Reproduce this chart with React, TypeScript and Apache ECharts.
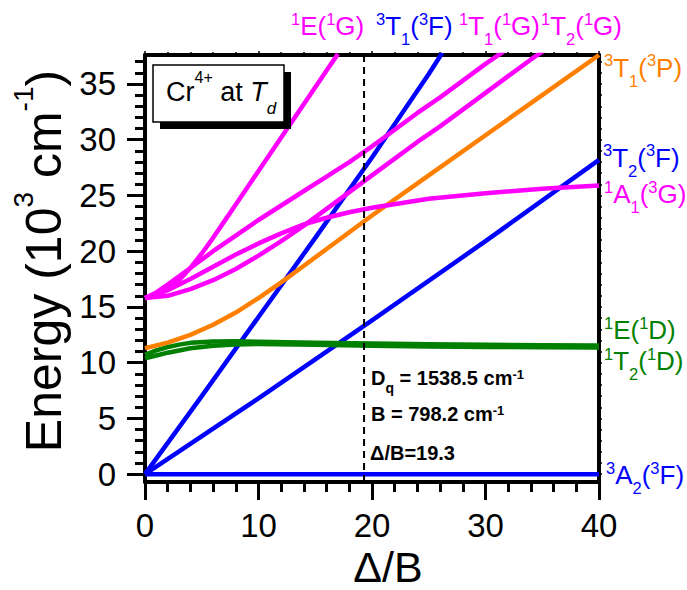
import React, { useEffect, useRef } from 'react';
import * as echarts from 'echarts';

const FONT = "'Liberation Sans', Arial, Helvetica, sans-serif";

// axis ticks
const yMajorTicks = [0, 5, 10, 15, 20, 25, 30, 35];
const yMinorTicks = [1, 2, 3, 4, 6, 7, 8, 9, 11, 12, 13, 14, 16, 17, 18, 19, 21, 22, 23, 24, 26, 27, 28, 29, 31, 32, 33, 34, 36, 37];
const yRightTicks = [0, 1, 2, 3, 4, 5, 6, 7, 8, 9, 10, 11, 12, 13, 14, 15, 16, 17, 18, 19, 20, 21, 22, 23, 24, 25, 26, 27, 28, 29, 30, 31, 32, 33, 34, 35, 36, 37];
const X_MIN = 0;
const X_MAX = 40;
const Y_MIN = -0.7;
const Y_MAX = 37.6;

// energy levels: [Δ/B, E (10^3 cm^-1)]
const A2_3F = [[0, 0], [40, 0]];
const T2_3F = [[0, 0], [10, 6.8], [20, 13.8], [30, 20.9], [40, 28.2]];
const T1_3F = [[0, 0], [5, 7.0], [10, 14.1], [15, 21.2], [20, 28.4], [25, 35.9], [26.2, 37.8]];
const T1_3P = [[0, 11.3], [2, 11.8], [4, 12.5], [6, 13.4], [8, 14.5], [10, 15.8], [12, 17.2], [14, 18.7], [16, 20.2], [18, 21.7], [20, 23.2], [25, 26.8], [30, 30.4], [35, 34.0], [40, 37.6]];
const E_1D = [[0, 10.7], [1, 11.1], [2, 11.4], [3, 11.62], [4, 11.78], [6, 11.9], [8, 11.92], [10, 11.88], [15, 11.8], [20, 11.72], [25, 11.66], [30, 11.61], [35, 11.57], [40, 11.55]];
const T2_1D = [[0, 10.4], [1, 10.65], [2, 10.9], [3, 11.1], [4, 11.3], [6, 11.52], [8, 11.64], [10, 11.68], [15, 11.6], [20, 11.52], [25, 11.46], [30, 11.42], [35, 11.38], [40, 11.36]];
const E_1G = [[0, 15.8], [1, 16.05], [2, 16.6], [3, 17.4], [4, 18.5], [5, 19.8], [6, 21.2], [7, 22.7], [8, 24.2], [9, 25.7], [10, 27.2], [12, 30.2], [14, 33.2], [16, 36.2], [17, 37.7]];
const T1_1G = [[0, 15.8], [1, 16.3], [2, 17.0], [4, 18.5], [6, 20.0], [8, 21.4], [10, 22.8], [12, 24.1], [14, 25.4], [16, 26.7], [18, 28.0], [20, 29.4], [22, 30.9], [24, 32.4], [26, 33.8], [28, 35.3], [30, 36.8], [32, 38.2]];
const T2_1G = [[0, 15.8], [2, 16.0], [4, 16.6], [6, 17.4], [8, 18.4], [10, 19.6], [12, 20.9], [14, 22.3], [16, 23.8], [18, 25.3], [20, 26.8], [22, 28.3], [24, 29.8], [26, 31.2], [28, 32.7], [30, 34.2], [32, 35.7], [34, 37.2], [36, 38.6]];
const A1_1G = [[0, 15.8], [1, 16.1], [2, 16.5], [4, 17.5], [6, 18.6], [8, 19.7], [10, 20.7], [12, 21.6], [14, 22.4], [16, 23.0], [18, 23.5], [20, 23.9], [25, 24.7], [30, 25.2], [35, 25.6], [40, 25.9]];
const DELTA_B = 19.3;

const MAGENTA = '#ff00ff';
const BLUE = '#0000ff';
const ORANGE = '#ff8000';
const GREEN = '#008000';

type Seg = [string, string];
const toRich = (segs: Seg[]) => segs.map(([t, k]) => `{${k}|${t}}`).join('');

const levelRich = (color: string) => ({
  m: { fontSize: 26, fontFamily: FONT, fill: color, height: 30, lineHeight: 30, verticalAlign: 'top' },
  sup: { fontSize: 16.5, fontFamily: FONT, fill: color, height: 15, lineHeight: 15, verticalAlign: 'top' },
  sub: { fontSize: 16.5, fontFamily: FONT, fill: color, height: 56, lineHeight: 56, verticalAlign: 'top' },
});

const levelLabel = (segs: Seg[], color: string, x: number, y: number) => ({
  type: 'text',
  x,
  y,
  silent: true,
  style: { text: toRich(segs), rich: levelRich(color), align: 'left', verticalAlign: 'top' },
});

const annRich = {
  m: { fontSize: 20, fontWeight: 'bold', fontFamily: FONT, fill: '#000', height: 24, lineHeight: 24, verticalAlign: 'top' },
  sub: { fontSize: 14, fontWeight: 'bold', fontFamily: FONT, fill: '#000', height: 45, lineHeight: 45, verticalAlign: 'top' },
  sup: { fontSize: 13, fontWeight: 'bold', fontFamily: FONT, fill: '#000', height: 17, lineHeight: 17, verticalAlign: 'top' },
};

function lineSeries(name: string, data: number[][], color: string) {
  return {
    type: 'line',
    name,
    data,
    symbol: 'none',
    showSymbol: false,
    smooth: false,
    silent: true,
    clip: true,
    lineStyle: { color, width: 4.5, join: 'round' },
  };
}

export default function App() {
  const ref = useRef<HTMLDivElement>(null);
  useEffect(() => {
    if (!ref.current) return;
    const chart = echarts.init(ref.current, null, { renderer: 'svg' });
    const axisLine = { show: true, onZero: false, lineStyle: { color: '#000', width: 4 } };
    const option: any = {
      animation: false,
      backgroundColor: '#fff',
      grid: { left: 145, right: 88, top: 55, bottom: 108 },
      xAxis: [
        {
          type: 'value', position: 'bottom', min: X_MIN, max: X_MAX, interval: 10,
          axisLine,
          axisTick: { show: true, inside: false, length: 18, lineStyle: { color: '#000', width: 3 } },
          minorTick: { show: true, splitNumber: 5, length: 10, lineStyle: { color: '#000', width: 3 } },
          axisLabel: { fontSize: 33, fontFamily: FONT, color: '#000', margin: 27 },
          splitLine: { show: false },
          minorSplitLine: { show: false },
        },
        {
          type: 'value', position: 'top', min: X_MIN, max: X_MAX, interval: 10,
          axisLine,
          axisTick: { show: true, inside: false, length: 4, lineStyle: { color: '#000', width: 1.5 } },
          minorTick: { show: true, splitNumber: 5, length: 3, lineStyle: { color: '#000', width: 1.5 } },
          axisLabel: { show: false },
          splitLine: { show: false },
        },
      ],
      yAxis: [
        {
          type: 'value', position: 'left', min: Y_MIN, max: Y_MAX,
          axisLine,
          axisTick: { show: true, inside: false, length: 18, customValues: yMajorTicks, lineStyle: { color: '#000', width: 3 } },
          axisLabel: { fontSize: 33, fontFamily: FONT, color: '#000', margin: 29, customValues: yMajorTicks },
          splitLine: { show: false },
        },
        {
          type: 'value', position: 'left', min: Y_MIN, max: Y_MAX,
          axisLine: { show: false, onZero: false },
          axisTick: { show: true, inside: false, length: 10, customValues: yMinorTicks, lineStyle: { color: '#000', width: 3 } },
          axisLabel: { show: false },
          splitLine: { show: false },
        },
        {
          type: 'value', position: 'right', min: Y_MIN, max: Y_MAX,
          axisLine,
          axisTick: { show: true, inside: false, length: 3, customValues: yRightTicks, lineStyle: { color: '#000', width: 1.5 } },
          axisLabel: { show: false },
          splitLine: { show: false },
        },
      ],
      series: [
        lineSeries('3A2(3F)', A2_3F, BLUE),
        lineSeries('3T2(3F)', T2_3F, BLUE),
        lineSeries('3T1(3F)', T1_3F, BLUE),
        lineSeries('3T1(3P)', T1_3P, ORANGE),
        lineSeries('1E(1D)', E_1D, GREEN),
        lineSeries('1T2(1D)', T2_1D, GREEN),
        lineSeries('1A1(1G)', A1_1G, MAGENTA),
        lineSeries('1T2(1G)', T2_1G, MAGENTA),
        lineSeries('1T1(1G)', T1_1G, MAGENTA),
        lineSeries('1E(1G)', E_1G, MAGENTA),
        {
          type: 'line',
          name: 'Δ/B',
          data: [[DELTA_B, Y_MIN], [DELTA_B, Y_MAX]],
          symbol: 'none',
          silent: true,
          lineStyle: { color: '#000', width: 2, type: [7, 5] },
          z: 5,
        },
      ],
      graphic: {
        elements: [
          // top labels
          levelLabel([['1', 'sup'], ['E(', 'm'], ['1', 'sup'], ['G)', 'm']], MAGENTA, 291, 11),
          levelLabel([['3', 'sup'], ['T', 'm'], ['1', 'sub'], ['(', 'm'], ['3', 'sup'], ['F)', 'm']], BLUE, 376, 11),
          levelLabel([['1', 'sup'], ['T', 'm'], ['1', 'sub'], ['(', 'm'], ['1', 'sup'], ['G)', 'm']], MAGENTA, 459, 11),
          levelLabel([['1', 'sup'], ['T', 'm'], ['2', 'sub'], ['(', 'm'], ['1', 'sup'], ['G)', 'm']], MAGENTA, 541, 11),
          // right labels
          levelLabel([['3', 'sup'], ['T', 'm'], ['1', 'sub'], ['(', 'm'], ['3', 'sup'], ['P)', 'm']], ORANGE, 604, 52.5),
          levelLabel([['3', 'sup'], ['T', 'm'], ['2', 'sub'], ['(', 'm'], ['3', 'sup'], ['F)', 'm']], BLUE, 603, 142.5),
          levelLabel([['1', 'sup'], ['A', 'm'], ['1', 'sub'], ['(', 'm'], ['3', 'sup'], ['G)', 'm']], MAGENTA, 604, 179),
          levelLabel([['1', 'sup'], ['E(', 'm'], ['1', 'sup'], ['D)', 'm']], GREEN, 604, 315),
          levelLabel([['1', 'sup'], ['T', 'm'], ['2', 'sub'], ['(', 'm'], ['1', 'sup'], ['D)', 'm']], GREEN, 604, 346),
          levelLabel([['3', 'sup'], ['A', 'm'], ['2', 'sub'], ['(', 'm'], ['3', 'sup'], ['F)', 'm']], BLUE, 606, 460),
          // legend box
          { type: 'rect', silent: true, z: 100, shape: { x: 160, y: 72, width: 131, height: 57 }, style: { fill: '#000' } },
          { type: 'rect', silent: true, z: 101, shape: { x: 153, y: 65, width: 131, height: 57 }, style: { fill: '#fff', stroke: '#000', lineWidth: 1.5 } },
          {
            type: 'text', silent: true, z: 102, x: 166, y: 75.7,
            style: {
              text: '{m|Cr}{sup|4+}{m| at }{it|T}{sub|d}',
              align: 'left', verticalAlign: 'top',
              rich: {
                m: { fontSize: 27, fontFamily: FONT, fill: '#000', height: 32, lineHeight: 32, verticalAlign: 'top' },
                it: { fontSize: 27, fontStyle: 'italic', fontFamily: FONT, fill: '#000', height: 32, lineHeight: 32, verticalAlign: 'top' },
                sup: { fontSize: 16, fontFamily: FONT, fill: '#000', height: 4, lineHeight: 4, verticalAlign: 'top' },
                sub: { fontSize: 17, fontStyle: 'italic', fontFamily: FONT, fill: '#000', height: 65, lineHeight: 65, verticalAlign: 'top' },
              },
            },
          },
          // annotations
          { type: 'text', silent: true, x: 371, y: 365.5, style: { text: '{m|D}{sub|q}{m| = 1538.5 cm}{sup|-1}', rich: annRich, align: 'left', verticalAlign: 'top' } },
          { type: 'text', silent: true, x: 371, y: 402, style: { text: '{m|B = 798.2 cm}{sup|-1}', rich: annRich, align: 'left', verticalAlign: 'top' } },
          { type: 'text', silent: true, x: 370, y: 440.5, style: { text: '{m|Δ/B=19.3}', rich: annRich, align: 'left', verticalAlign: 'top' } },
          // axis titles
          {
            type: 'text', silent: true, x: 44, y: 261, rotation: Math.PI / 2,
            style: {
              text: '{m|Energy (10}{sup|3}{m| cm}{sup|-1}{m|)}',
              align: 'center', verticalAlign: 'middle',
              rich: {
                m: { fontSize: 50, fontFamily: FONT, fill: '#000', height: 56, lineHeight: 56, verticalAlign: 'top' },
                sup: { fontSize: 28, fontFamily: FONT, fill: '#000', height: 14, lineHeight: 14, verticalAlign: 'top' },
              },
            },
          },
          {
            type: 'text', silent: true, x: 388, y: 567,
            style: { text: 'Δ/B', fontSize: 43, fontFamily: FONT, fill: '#000', align: 'center', verticalAlign: 'middle' },
          },
        ],
      },
    };
    chart.setOption(option);
    return () => chart.dispose();
  }, []);
  return <div ref={ref} style={{ width: 687, height: 590, position: 'absolute', left: 0, top: 0, background: '#fff' }} />;
}
